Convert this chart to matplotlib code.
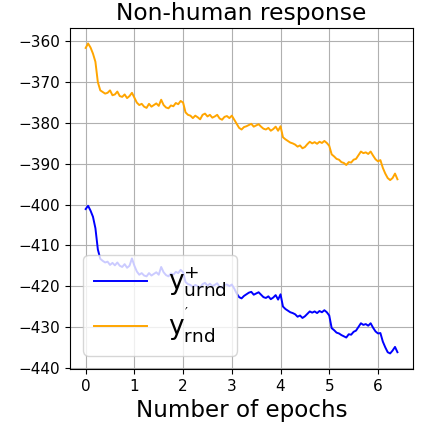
import numpy as np
from matplotlib import pyplot as plt

# values, one sample every 0.05 epoch
y_rnd = [
    -361.6, -360.5, -361.5, -363.0, -365.0, -370.0, -372.0, -372.4, -372.8, -372.6,
    -372.0, -373.2, -373.0, -372.3, -373.4, -373.6, -373.0, -373.9, -373.4, -372.6,
    -373.8, -375.0, -375.6, -375.3, -376.0, -376.3, -375.3, -376.0, -375.6, -375.2,
    -375.8, -374.3, -375.6, -376.2, -376.4, -375.7, -375.9, -375.1, -375.4, -374.6,
    -375.0, -377.4, -378.0, -378.2, -378.8, -378.2, -378.6, -379.1, -378.0, -377.7,
    -378.4, -378.0, -378.7, -378.4, -378.0, -378.9, -379.2, -378.5, -378.3, -378.8,
    -378.2, -379.2, -380.2, -381.2, -381.6, -381.0, -380.8, -380.5, -380.2, -380.9,
    -380.6, -380.3, -380.9, -381.4, -381.6, -381.2, -381.9, -381.5, -380.9, -381.9,
    -380.8, -383.5, -384.0, -384.4, -384.8, -385.0, -385.3, -385.8, -385.5, -386.2,
    -385.9, -385.2, -384.6, -385.0, -384.7, -385.1, -384.6, -384.9, -384.4, -384.9,
    -385.6, -387.7, -388.2, -388.8, -389.0, -389.6, -389.8, -390.3, -389.6, -389.7,
    -389.0, -388.8, -387.9, -387.0, -387.4, -387.2, -387.6, -387.0, -388.0, -388.9,
    -389.4, -389.1, -391.0, -392.4, -393.5, -394.0, -393.5, -392.4, -393.8,
]
y_urnd = [
    -401.1, -400.3, -401.5, -403.0, -405.8, -411.0, -413.3, -413.8, -414.2, -414.0,
    -414.8, -414.3, -414.9, -414.2, -415.0, -415.3, -414.6, -415.5, -415.0, -413.2,
    -415.0, -416.4, -417.2, -416.8, -417.4, -417.6, -416.8, -417.4, -417.0, -416.6,
    -417.2, -415.3, -416.6, -417.3, -417.6, -416.9, -417.2, -416.5, -416.8, -416.0,
    -416.6, -419.0, -419.5, -419.7, -420.2, -419.7, -420.0, -420.4, -419.5, -419.2,
    -419.9, -419.4, -420.0, -419.7, -419.3, -420.2, -420.4, -419.7, -419.6, -420.0,
    -419.6, -420.6, -421.8, -422.7, -423.0, -422.4, -422.0, -421.6, -421.4, -422.1,
    -421.8, -421.5, -422.1, -422.7, -422.9, -422.5, -423.2, -422.8, -422.2, -423.3,
    -422.0, -425.0, -425.6, -426.0, -426.4, -426.6, -426.9, -427.5, -427.2, -427.8,
    -427.4, -426.8, -426.2, -426.5, -426.2, -426.6, -426.1, -426.4, -425.9, -426.4,
    -427.2, -430.3, -430.8, -431.4, -431.6, -432.0, -432.3, -432.6, -431.8, -431.9,
    -431.2, -430.9, -430.0, -429.1, -429.5, -429.3, -429.7, -429.1, -430.2, -431.1,
    -431.6, -431.5, -433.6, -435.0, -436.2, -436.5, -435.8, -434.9, -436.2,
]
epoch_step = 0.05
epochs = np.arange(len(y_rnd)) * epoch_step

plt.rcParams['mathtext.default'] = 'regular'

fig = plt.figure(figsize=(4.38, 4.30), dpi=100)
ax = fig.add_axes([0.160, 0.142, 0.783, 0.793])

ax.plot(epochs, y_urnd, color="blue", lw=1.4, label=r"$y^{+}_{urnd}$")
ax.plot(epochs, y_rnd, color="orange", lw=1.4, label=r"$y^{'}_{rnd}$")

ax.set_title("Non-human response", fontsize=16.8)
ax.set_xlabel("Number of epochs", fontsize=16.6)
ax.set_yticks([-360, -370, -380, -390, -400, -410, -420, -430, -440])
ax.set_xticks([0, 1, 2, 3, 4, 5, 6])
ax.tick_params(labelsize=11)
ax.grid(True)
ax.legend(loc="lower left", fontsize=19, labelspacing=0.25)

fig.savefig("out.png", dpi=100)
